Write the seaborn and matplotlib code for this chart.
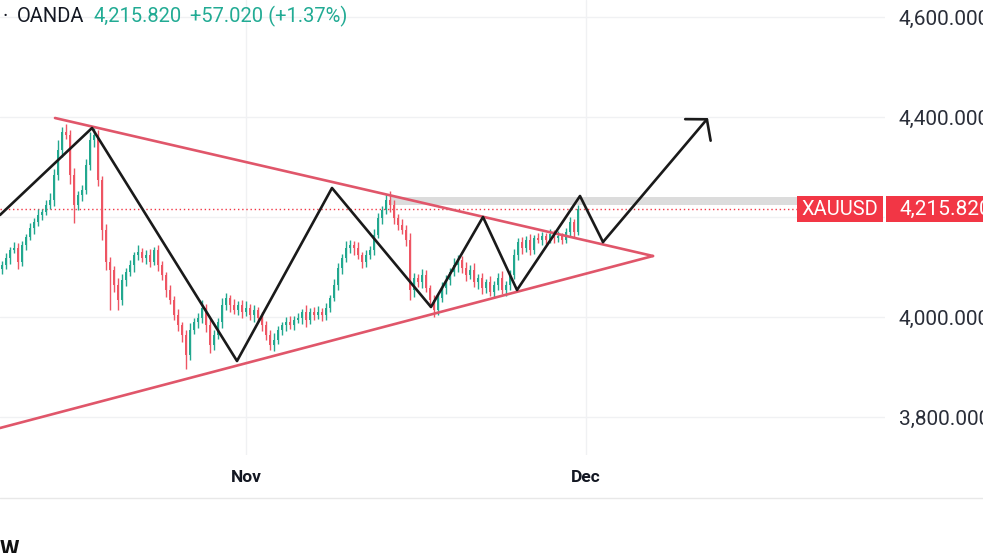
import numpy as np
import pandas as pd
import seaborn as sns
import matplotlib.pyplot as plt
from matplotlib import transforms
from matplotlib.patches import Rectangle
from matplotlib.lines import Line2D

# XAUUSD candles (one bar per 4h session)
first_open = 4096
closes = [
    4104, 4118, 4134, 4138, 4110, 4144, 4160, 4178, 4190, 4204,
    4210, 4224, 4234, 4284, 4334, 4370, 4364, 4284, 4224, 4244,
    4254, 4304, 4354, 4364, 4274, 4174, 4110, 4094, 4064, 4034,
    4074, 4090, 4104, 4124, 4130, 4118, 4124, 4110, 4134, 4104,
    4084, 4054, 4034, 4004, 3984, 3964, 3924, 3974, 3990, 3998,
    4018, 3984, 3944, 3964, 3990, 4024, 4038, 4024, 4014, 4024,
    4010, 4018, 4004, 4014, 3998, 3984, 3964, 3944, 3954, 3974,
    3984, 3990, 3984, 3994, 3998, 4010, 3994, 4010, 4004, 4010,
    4004, 4018, 4038, 4064, 4098, 4118, 4138, 4144, 4138, 4124,
    4110, 4124, 4134, 4164, 4198, 4214, 4234, 4224, 4198, 4184,
    4174, 4154, 4054, 4078, 4070, 4084, 4058, 4034, 4014, 4038,
    4058, 4074, 4090, 4104, 4114, 4098, 4084, 4094, 4070, 4078,
    4058, 4070, 4050, 4064, 4078, 4054, 4064, 4084, 4124, 4150,
    4138, 4154, 4134, 4158, 4154, 4162, 4154, 4166, 4158, 4162,
    4154, 4170, 4190, 4170, 4215.82,
]
# wick lengths above / below the body
upper_wick = [
    8, 10, 6, 12, 10, 8, 6, 10, 8, 12,
    6, 10, 14, 12, 20, 10, 16, 10, 14, 8,
    10, 12, 16, 14, 10, 8, 12, 10, 8, 14,
    12, 8, 10, 6, 14, 8, 10, 12, 6, 10,
    8, 6, 10, 8, 12, 6, 10, 14, 8, 10,
    16, 8, 12, 10, 8, 14, 10, 6, 12, 8,
    10, 14, 8, 10, 6, 12, 8, 10, 14, 8,
    6, 10, 12, 8, 10, 6, 14, 8, 10, 12,
    8, 10, 6, 12, 10, 8, 14, 10, 8, 12,
    6, 10, 8, 12, 10, 8, 12, 18, 10, 8,
    12, 10, 14, 10, 8, 12, 10, 6, 10, 8,
    12, 10, 8, 14, 10, 8, 12, 10, 14, 8,
    10, 6, 12, 8, 10, 14, 8, 10, 12, 8,
    10, 8, 12, 6, 10, 8, 6, 10, 8, 10,
    6, 8, 10, 6, 8,
]
lower_wick = [
    10, 8, 12, 6, 14, 8, 10, 6, 12, 8,
    10, 6, 8, 12, 10, 14, 8, 18, 36, 10,
    12, 8, 10, 14, 12, 20, 16, 80, 14, 20,
    10, 12, 8, 14, 10, 8, 12, 10, 6, 12,
    10, 14, 8, 10, 12, 14, 28, 10, 8, 12,
    10, 14, 16, 10, 8, 12, 10, 14, 8, 10,
    12, 8, 10, 14, 8, 12, 10, 10, 12, 8,
    10, 12, 8, 10, 6, 12, 14, 8, 10, 8,
    12, 10, 8, 6, 10, 12, 8, 10, 14, 8,
    12, 10, 8, 10, 6, 12, 8, 14, 12, 10,
    8, 12, 20, 14, 10, 12, 8, 14, 14, 10,
    8, 12, 10, 8, 14, 10, 12, 8, 10, 14,
    12, 10, 8, 12, 10, 8, 12, 10, 8, 10,
    12, 8, 10, 8, 6, 10, 8, 6, 10, 8,
    8, 6, 10, 12, 6,
]

# drawings (bar index, price)
upper_line_x = [13.25, 162.75]
upper_line_y = [4398, 4122]
lower_line_x = [-0.5, 162.75]
lower_line_y = [3778, 4122]
zigzag_x = [-0.5, 22.5, 58.75, 82.5, 107.25, 120.25, 128.75, 144.5, 150.25, 176.5]
zigzag_y = [4204, 4378, 3912, 4258, 4020, 4200, 4054, 4242, 4150, 4398]
zone_low, zone_high = 4224, 4240

last_price = 4215.82
change = 57.02
change_pct = 1.37
month_pos = [61, 146]
month_labels = ["Nov", "Dec"]
price_ticks = [3800, 4000, 4200, 4400, 4600]

GREEN = "#22a88f"
RED = "#ee5563"
LINE_RED = "#e0566a"
TAG_RED = "#f23645"
TEXT = "#131722"

sns.set_theme(style="white")
plt.rcParams["font.family"] = ["Roboto", "DejaVu Sans"]

df = pd.DataFrame({"close": closes})
df["x"] = np.arange(len(df))
df["open"] = [first_open] + closes[:-1]
df["high"] = df[["open", "close"]].max(axis=1) + upper_wick
df["low"] = df[["open", "close"]].min(axis=1) - lower_wick
df["color"] = np.where(df["close"] >= df["open"], GREEN, RED)

fig = plt.figure(figsize=(9.83, 5.53), dpi=100)
ax = fig.add_axes([0, 98 / 553, 885 / 983, 455 / 553])

ax.vlines(df["x"], df["low"], df["high"], color=df["color"], lw=1.0, zorder=2)
body = (df["close"] - df["open"]).abs().clip(lower=2)
ax.bar(df["x"], body, bottom=df[["open", "close"]].min(axis=1), width=0.72,
       color=df["color"], lw=0, zorder=3)

ax.axhspan(zone_low, zone_high, xmin=390 / 885, xmax=797 / 885, color="#dcdcdc", lw=0, zorder=1)
ax.axhline(last_price, xmax=797 / 885, color=TAG_RED, ls=(0, (1, 2)), lw=1, zorder=1.5)

sns.lineplot(x=upper_line_x, y=upper_line_y, ax=ax, color=LINE_RED, lw=1.9,
             sort=False, estimator=None, zorder=4)
sns.lineplot(x=lower_line_x, y=lower_line_y, ax=ax, color=LINE_RED, lw=1.9,
             sort=False, estimator=None, zorder=4)
sns.lineplot(x=zigzag_x[:-1], y=zigzag_y[:-1], ax=ax, color="#1a1a1a", lw=1.9,
             sort=False, estimator=None, zorder=5)
ax.annotate("", xy=(zigzag_x[-1], zigzag_y[-1]), xytext=(zigzag_x[-2], zigzag_y[-2]),
            arrowprops=dict(arrowstyle="->,head_length=1.0,head_width=1.2", color="#1a1a1a",
                            lw=1.9, shrinkA=0, shrinkB=0, mutation_scale=10), zorder=5)

ax.set_xlim(-0.5, 220.75)
ax.set_ylim(3724, 4634)
ax.yaxis.tick_right()
ax.set_yticks(price_ticks)
# the 4,200 label sits under the price tag
ax.set_yticklabels(["" if v == 4200 else f"{v:,.3f}" for v in price_ticks])
ax.set_xticks(month_pos)
ax.set_xticklabels(month_labels, fontweight="bold")
ax.tick_params(axis="y", length=0, pad=10, labelsize=15, labelcolor="#2a2e39")
ax.tick_params(axis="x", length=0, pad=11, labelsize=12.5, labelcolor=TEXT)
ax.grid(True, color="#f0f1f3", lw=1)
ax.set_axisbelow(True)
for s in ax.spines.values():
    s.set_visible(False)
ax.set_xlabel("")
ax.set_ylabel("")

# price tags on the right
trans = transforms.blended_transform_factory(fig.transFigure, ax.transData)
fig.add_artist(Rectangle((797 / 983, last_price - 26), 86 / 983, 52, transform=trans,
                         color=TAG_RED, lw=0, zorder=5))
fig.add_artist(Rectangle((886 / 983, last_price - 26), 97 / 983, 52, transform=trans,
                         color=TAG_RED, lw=0, zorder=5))
fig.text(840 / 983, last_price, "XAUUSD", transform=trans, ha="center", va="center",
         color="white", fontsize=14.5, zorder=6)
fig.text(899 / 983, last_price, f"{last_price:,.3f}", transform=trans, ha="left", va="center",
         color="white", fontsize=15, zorder=6)

# header
top = 1 - 16 / 553
fig.text(2 / 983, top, "·", ha="left", va="center", color=TEXT, fontsize=14.5)
fig.text(17 / 983, top, "OANDA", ha="left", va="center", color=TEXT, fontsize=14.5)
fig.text(94 / 983, top, f"{last_price:,.3f}", ha="left", va="center", color="#22ab94", fontsize=14.5)
fig.text(190 / 983, top, f"+{change:,.3f} (+{change_pct:.2f}%)", ha="left", va="center",
         color="#22ab94", fontsize=14.5)

fig.add_artist(Line2D([0, 1], [1 - 498 / 553] * 2, transform=fig.transFigure, color="#e8e8e8", lw=1))
fig.text(0, 1 - 539 / 553, "W", ha="left", va="top", color="#111111", fontsize=16, fontweight="bold")

fig.savefig("out.png", dpi=100)
